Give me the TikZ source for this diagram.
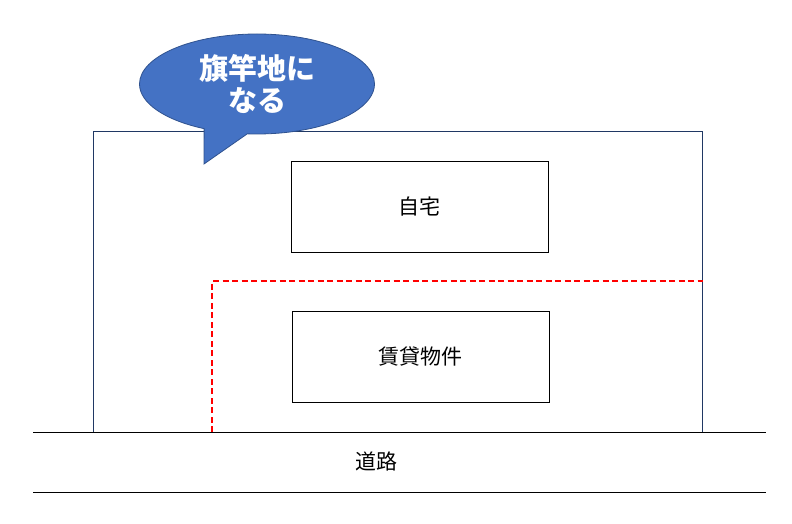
\documentclass[tikz,border=0pt]{standalone}
\usepackage{fontspec}
\setmainfont{Noto Sans CJK JP}
\usetikzlibrary{positioning,shapes.callouts}
\definecolor{lotblue}{HTML}{203864}
\definecolor{callfill}{HTML}{4472C4}
\definecolor{calldraw}{HTML}{2F528F}

\begin{document}
\begin{tikzpicture}[x=1pt, y=-1pt,
		block/.style={draw, line width=1pt, minimum width=257, minimum height=91, inner sep=0pt, font=\fontsize{21}{25}\selectfont},
		lot/.style={draw=lotblue, line width=1pt, minimum width=609, minimum height=300, inner sep=0pt},
		boundary/.style={red, line width=1.8pt, dash pattern=on 6pt off 3.5pt},
		road/.style={line width=1pt},
		bubble/.style={ellipse callout, draw=calldraw, fill=callfill, line width=0.8pt, minimum width=235, minimum height=100, inner sep=0pt, callout pointer arc=22, text=white, align=center, font=\fontsize{29}{32}\selectfont\bfseries},
	]
		\useasboundingbox (0,0) rectangle (792,524);
		\node (lot) [lot] at (397.5,282) {};
		\node (house) [block] at (419.5,206.5) {自宅};
		\node (rental) [block, below=58pt of house.south, anchor=north, xshift=1pt] {賃貸物件};
		
		\coordinate (bl) at (212,432);
		\draw[boundary] (bl) |- (lot.east |- 0,281);
		
		\draw[road] (33,432) -- (766,432);
		\draw[road] (33,492) -- (766,492);
		\node (road) [font=\fontsize{21}{25}\selectfont] at (376,461) {道路};
		
		\node (flag) [bubble, callout absolute pointer={(204,164)}] at (257,84) {旗竿地に\\なる};
	\end{tikzpicture}
\end{document}
